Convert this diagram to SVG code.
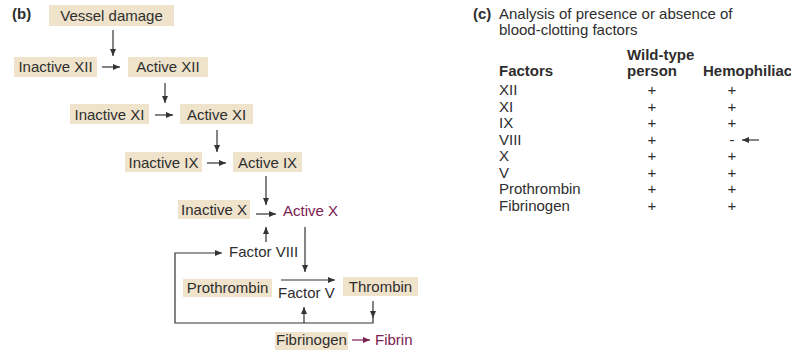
<svg xmlns="http://www.w3.org/2000/svg" width="791" height="350" viewBox="0 0 791 350">
  <style>
    .box { fill: #efe3cc; }
    .t { font-family: "Liberation Sans", Arial, sans-serif; font-size: 15px; fill: #2e2e2e; }
    .c { text-anchor: middle; }
    .b { font-weight: bold; }
    .p { fill: #7b2150; }
    .ln { fill: none; stroke: #333; stroke-width: 1.2; }
    .lp { fill: none; stroke: #7b2150; stroke-width: 1.2; }
  </style>
  <defs>
    <marker id="ah" markerUnits="userSpaceOnUse" markerWidth="8" markerHeight="6" refX="7" refY="3" orient="auto">
      <path d="M0,0 L7,3 L0,6 Z" fill="#333"/>
    </marker>
    <marker id="ahp" markerUnits="userSpaceOnUse" markerWidth="8" markerHeight="6" refX="7" refY="3" orient="auto">
      <path d="M0,0 L7,3 L0,6 Z" fill="#7b2150"/>
    </marker>
  </defs>

  <rect width="791" height="350" fill="#ffffff"/>

  <!-- (b) clotting cascade -->
  <text class="t b" x="12" y="19" font-size="14">(b)</text>

  <g id="vessel-damage"><rect class="box" x="49" y="5" width="125" height="21"/><text class="t c" x="111.5" y="21">Vessel damage</text></g>
  <g id="inactive-xii"><rect class="box" x="14" y="57" width="83" height="20"/><text class="t c" x="55.5" y="72">Inactive XII</text></g>
  <g id="active-xii"><rect class="box" x="128" y="57" width="80" height="20"/><text class="t c" x="168" y="72">Active XII</text></g>
  <g id="inactive-xi"><rect class="box" x="70" y="104" width="79" height="20"/><text class="t c" x="109.5" y="119.5">Inactive XI</text></g>
  <g id="active-xi"><rect class="box" x="180" y="104" width="73" height="20"/><text class="t c" x="216.5" y="119.5">Active XI</text></g>
  <g id="inactive-ix"><rect class="box" x="125" y="152" width="77" height="20"/><text class="t c" x="163.5" y="167.5">Inactive IX</text></g>
  <g id="active-ix"><rect class="box" x="233" y="152" width="69" height="20"/><text class="t c" x="267.5" y="167.5">Active IX</text></g>
  <g id="inactive-x"><rect class="box" x="178" y="200" width="72" height="19"/><text class="t c" x="214" y="215">Inactive X</text></g>
  <g id="active-x"><text class="t p" x="283" y="216">Active X</text></g>
  <g id="factor-viii"><text class="t" x="229" y="257">Factor VIII</text></g>
  <g id="prothrombin"><rect class="box" x="183" y="279" width="89" height="18"/><text class="t c" x="227.5" y="293">Prothrombin</text></g>
  <g id="factor-v"><text class="t" x="278" y="298">Factor V</text></g>
  <g id="thrombin"><rect class="box" x="343" y="277" width="75" height="19"/><text class="t c" x="380.5" y="292">Thrombin</text></g>
  <g id="fibrinogen"><rect class="box" x="275" y="332" width="73" height="18"/><text class="t c" x="311.5" y="345">Fibrinogen</text></g>
  <g id="fibrin"><text class="t p" x="375" y="345">Fibrin</text></g>

  <g id="connectors">
    <line class="ln" x1="113" y1="30" x2="113" y2="56" marker-end="url(#ah)"/>
    <line class="ln" x1="102" y1="67" x2="120" y2="67" marker-end="url(#ah)"/>
    <line class="ln" x1="165" y1="83" x2="165" y2="103" marker-end="url(#ah)"/>
    <line class="ln" x1="155" y1="115" x2="173" y2="115" marker-end="url(#ah)"/>
    <line class="ln" x1="217" y1="130" x2="217" y2="152" marker-end="url(#ah)"/>
    <line class="ln" x1="207" y1="163" x2="226" y2="163" marker-end="url(#ah)"/>
    <line class="ln" x1="266" y1="176" x2="266" y2="205" marker-end="url(#ah)"/>
    <line class="ln" x1="256" y1="214" x2="276" y2="214" marker-end="url(#ah)"/>
    <line class="ln" x1="266" y1="242" x2="266" y2="227" marker-end="url(#ah)"/>
    <line class="ln" x1="305" y1="227" x2="305" y2="272" marker-end="url(#ah)"/>
    <line class="ln" x1="281" y1="280" x2="335" y2="280" marker-end="url(#ah)"/>
    <line class="ln" x1="304" y1="323" x2="304" y2="307" marker-end="url(#ah)"/>
    <line class="ln" x1="373" y1="301" x2="373" y2="318" marker-end="url(#ah)"/>
    <polyline class="ln" points="373,317 373,323 175,323 175,253 222,253" marker-end="url(#ah)"/>
    <line class="lp" x1="352" y1="340" x2="370" y2="340" marker-end="url(#ahp)"/>
  </g>

  <!-- (c) presence / absence table -->
  <g id="table">
    <text class="t b" x="473" y="19" font-size="14">(c)</text>
    <text class="t" x="499" y="19">Analysis of presence or absence of</text>
    <text class="t" x="499" y="35">blood-clotting factors</text>
    <text class="t b" x="627" y="60">Wild-type</text>
    <text class="t b" x="499" y="76">Factors</text>
    <text class="t b" x="627" y="76">person</text>
    <text class="t b" x="703" y="76">Hemophiliac</text>

    <g class="rows">
      <text class="t" x="499" y="95">XII</text>
      <text class="t" x="499" y="111.5">XI</text>
      <text class="t" x="499" y="128">IX</text>
      <text class="t" x="499" y="144.5">VIII</text>
      <text class="t" x="499" y="161">X</text>
      <text class="t" x="499" y="177.5">V</text>
      <text class="t" x="499" y="194">Prothrombin</text>
      <text class="t" x="499" y="210.5">Fibrinogen</text>
    </g>
    <g class="wild">
      <text class="t c" x="652" y="95">+</text>
      <text class="t c" x="652" y="111.5">+</text>
      <text class="t c" x="652" y="128">+</text>
      <text class="t c" x="652" y="144.5">+</text>
      <text class="t c" x="652" y="161">+</text>
      <text class="t c" x="652" y="177.5">+</text>
      <text class="t c" x="652" y="194">+</text>
      <text class="t c" x="652" y="210.5">+</text>
    </g>
    <g class="hemo">
      <text class="t c" x="732" y="95">+</text>
      <text class="t c" x="732" y="111.5">+</text>
      <text class="t c" x="732" y="128">+</text>
      <text class="t c" x="732" y="144.5">-</text>
      <text class="t c" x="732" y="161">+</text>
      <text class="t c" x="732" y="177.5">+</text>
      <text class="t c" x="732" y="194">+</text>
      <text class="t c" x="732" y="210.5">+</text>
    </g>
    <line class="ln" x1="759" y1="140" x2="742" y2="140" marker-end="url(#ah)"/>
  </g>
</svg>
